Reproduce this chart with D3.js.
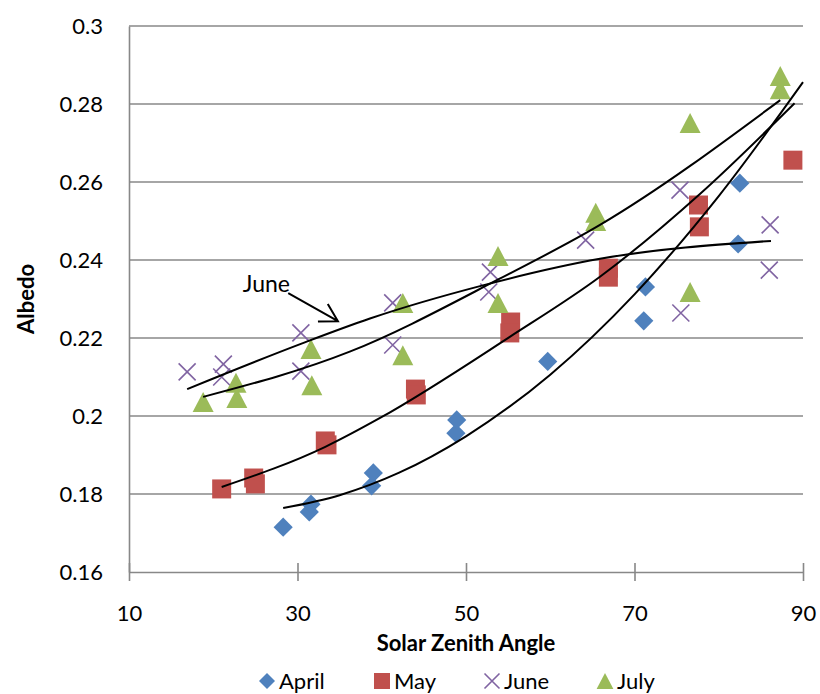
<!DOCTYPE html>
<html>
<head>
<meta charset="utf-8">
<script src="https://cdn.jsdelivr.net/npm/d3@7"></script>
<style>
  body { margin: 0; background: #fff; }
  text { font-family: Lato, "Open Sans", sans-serif; fill: #000; }
</style>
</head>
<body>
<svg id="chart" width="820" height="694"></svg>
<script>
// Albedo measurements against solar zenith angle, one series per month
const months = ["April", "May", "June", "July"];

const aprilZenith = [28.3, 31.4, 31.6, 38.8, 39.0, 48.8, 48.9, 59.7, 71.1, 71.3, 82.3, 82.5];
const aprilAlbedo = [0.1715, 0.1754, 0.1774, 0.1821, 0.1854, 0.1956, 0.1990, 0.2140, 0.2244, 0.2331, 0.2441, 0.2597];

const mayZenith = [21.0, 24.8, 25.0, 33.3, 33.5, 44.0, 44.1, 55.3, 55.2, 66.9, 66.9, 77.6, 77.7, 88.8];
const mayAlbedo = [0.1813, 0.1841, 0.1826, 0.1936, 0.1926, 0.2069, 0.2054, 0.2241, 0.2213, 0.2379, 0.2356, 0.2541, 0.2485, 0.2656];

const juneZenith = [16.9, 21.2, 21.0, 30.4, 30.4, 41.3, 41.3, 52.9, 52.7, 64.2, 75.4, 75.5, 86.1, 86.0];
const juneAlbedo = [0.2113, 0.2133, 0.2100, 0.2213, 0.2115, 0.2290, 0.2182, 0.2369, 0.2318, 0.2451, 0.2579, 0.2264, 0.2490, 0.2374];

const julyZenith = [18.8, 22.7, 22.8, 31.6, 31.7, 42.5, 42.5, 53.8, 53.8, 65.4, 65.4, 76.6, 76.6, 87.3, 87.3];
const julyAlbedo = [0.2036, 0.2085, 0.2046, 0.2172, 0.2079, 0.2290, 0.2156, 0.2410, 0.2290, 0.2521, 0.2500, 0.2751, 0.2318, 0.2872, 0.2838];

// Smoothed trend curves, one per month (zenith, albedo)
const aprilTrendZenith = [28.3, 35, 42, 50, 60, 70, 80, 90];
const aprilTrendAlbedo = [0.1764, 0.1797, 0.1854, 0.1948, 0.2106, 0.2312, 0.2564, 0.2856];

const mayTrendZenith = [21.0, 33.3, 39.8, 55.2, 65.9, 77.8, 89.0];
const mayTrendAlbedo = [0.1818, 0.1921, 0.1995, 0.2203, 0.2357, 0.2570, 0.2802];

const juneTrendZenith = [16.9, 30.4, 38.6, 52.0, 65.9, 86.2];
const juneTrendAlbedo = [0.2069, 0.2185, 0.2250, 0.2335, 0.2403, 0.2449];

const julyTrendZenith = [18.8, 36.2, 54.0, 65.9, 87.3];
const julyTrendAlbedo = [0.2049, 0.2165, 0.2352, 0.2490, 0.2810];

const xTicks = [10, 30, 50, 70, 90];
const yTicks = [0.16, 0.18, 0.2, 0.22, 0.24, 0.26, 0.28, 0.3];

// Callout naming the June trend curve
const calloutText = "June";
const calloutAt = [23.5, 0.2318];
const calloutFrom = [28.9, 0.2315];
const calloutTo = [34.8, 0.2243];

const colors = ["#4F81BD", "#C0504D", "#8064A2", "#9BBB59"];

const pair = (xs, ys) => xs.map((v, k) => ({ x: v, y: ys[k] }));
const series = [
  [aprilZenith, aprilAlbedo, aprilTrendZenith, aprilTrendAlbedo],
  [mayZenith, mayAlbedo, mayTrendZenith, mayTrendAlbedo],
  [juneZenith, juneAlbedo, juneTrendZenith, juneTrendAlbedo],
  [julyZenith, julyAlbedo, julyTrendZenith, julyTrendAlbedo]
].map((s, i) => ({
  name: months[i],
  color: colors[i],
  points: pair(s[0], s[1]),
  trend: pair(s[2], s[3])
}));

const svg = d3.select("#chart");
const plotLeft = 129, plotRight = 803, plotTop = 26, plotBottom = 572;

const x = d3.scaleLinear().domain([10, 90]).range([plotLeft, plotRight]);
const y = d3.scaleLinear().domain([0.16, 0.3]).range([plotBottom, plotTop]);

const gridColor = "#888888";

// horizontal gridlines
svg.append("g").selectAll("line").data(yTicks.filter(t => t > 0.16)).join("line")
  .attr("x1", plotLeft).attr("x2", plotRight)
  .attr("y1", d => y(d)).attr("y2", d => y(d))
  .attr("stroke", gridColor).attr("stroke-width", 1.6);

// axes
const xAxis = d3.axisBottom(x).tickValues(xTicks).tickSize(0).tickFormat(d3.format("d"));
const gx = svg.append("g").attr("transform", `translate(0,${plotBottom})`).call(xAxis);
gx.select(".domain").attr("stroke", gridColor).attr("stroke-width", 1.6);
gx.selectAll(".tick line").remove();
gx.selectAll(".tick").append("line")
  .attr("y1", -9).attr("y2", 9).attr("stroke", gridColor).attr("stroke-width", 1.6);
gx.selectAll(".tick text").attr("y", 0).attr("dy", 0).attr("transform", "translate(0,49)")
  .style("font-size", "22px").style("font-family", "Lato");

const yAxis = d3.axisLeft(y).tickValues(yTicks).tickSize(0).tickPadding(26)
  .tickFormat(d => d3.format("")(+d.toFixed(2)));
const gy = svg.append("g").attr("transform", `translate(${plotLeft},0)`).call(yAxis);
gy.select(".domain").attr("stroke", gridColor).attr("stroke-width", 1.6);
gy.selectAll(".tick text").attr("dy", "0.36em")
  .style("font-size", "22px").style("font-family", "Lato");

// axis titles
svg.append("text").attr("x", (plotLeft + plotRight) / 2).attr("y", 651)
  .attr("text-anchor", "middle").style("font-size", "22px").style("font-weight", "bold")
  .text("Solar Zenith Angle");
svg.append("text").attr("transform", `translate(34,${(plotTop + plotBottom) / 2}) rotate(-90)`)
  .attr("text-anchor", "middle").style("font-size", "22px").style("font-weight", "bold")
  .text("Albedo");

// marker shapes
const diamond = {
  draw(ctx, size) {
    const r = Math.sqrt(size / 2);
    ctx.moveTo(0, -r); ctx.lineTo(r, 0); ctx.lineTo(0, r); ctx.lineTo(-r, 0); ctx.closePath();
  }
};
const square = {
  draw(ctx, size) {
    const h = Math.sqrt(size) / 2;
    ctx.rect(-h, -h, 2 * h, 2 * h);
  }
};
const cross = {
  draw(ctx, size) {
    const h = Math.sqrt(size) / 2;
    ctx.moveTo(-h, -h); ctx.lineTo(h, h);
    ctx.moveTo(h, -h); ctx.lineTo(-h, h);
  }
};
const triangle = {
  draw(ctx, size) {
    const h = Math.sqrt(size) / 2;
    ctx.moveTo(0, -h); ctx.lineTo(h * 1.05, h); ctx.lineTo(-h * 1.05, h); ctx.closePath();
  }
};
const shapes = [diamond, square, cross, triangle];
const plotSizes = [2 * 9.6 * 9.6, 19 * 19, 17 * 17, 20 * 20];
const legendSizes = [2 * 8 * 8, 16 * 16, 15 * 15, 16 * 16];

function styleMarker(sel, i) {
  if (i === 2) sel.attr("fill", "none").attr("stroke", colors[i]).attr("stroke-width", 1.6);
  else sel.attr("fill", colors[i]).attr("stroke", "none");
}

// data markers
series.forEach((s, i) => {
  const sym = d3.symbol().type(shapes[i]).size(plotSizes[i]);
  svg.append("g").selectAll("path").data(s.points).join("path")
    .attr("d", sym)
    .attr("transform", d => `translate(${x(d.x)},${y(d.y)})`)
    .call(styleMarker, i);
});

// trend curves drawn over the markers
const line = d3.line().x(d => x(d.x)).y(d => y(d.y)).curve(d3.curveMonotoneX);
series.forEach(s => {
  svg.append("path").datum(s.trend).attr("d", line)
    .attr("fill", "none").attr("stroke", "#000").attr("stroke-width", 2);
});

// June callout with open arrowhead
svg.append("text").attr("x", x(calloutAt[0])).attr("y", y(calloutAt[1]))
  .style("font-size", "23px").text(calloutText);
const ax0 = x(calloutFrom[0]), ay0 = y(calloutFrom[1]);
const ax1 = x(calloutTo[0]), ay1 = y(calloutTo[1]);
const ang = Math.atan2(ay1 - ay0, ax1 - ax0);
const arm = 20, spread = Math.PI / 6;
const arrow = d3.path();
arrow.moveTo(ax0, ay0); arrow.lineTo(ax1, ay1);
arrow.moveTo(ax1 - arm * Math.cos(ang - spread), ay1 - arm * Math.sin(ang - spread));
arrow.lineTo(ax1, ay1);
arrow.lineTo(ax1 - arm * Math.cos(ang + spread), ay1 - arm * Math.sin(ang + spread));
svg.append("path").attr("d", arrow.toString())
  .attr("fill", "none").attr("stroke", "#000").attr("stroke-width", 2);

// legend
const legendX = [267, 382, 492, 605];
const legendY = 681;
const lg = svg.append("g");
months.forEach((m, i) => {
  lg.append("path")
    .attr("d", d3.symbol().type(shapes[i]).size(legendSizes[i]))
    .attr("transform", `translate(${legendX[i]},${legendY})`)
    .call(styleMarker, i);
  lg.append("text").attr("x", legendX[i] + 12).attr("y", legendY + 8)
    .style("font-size", "22px").text(m);
});
</script>
</body>
</html>
